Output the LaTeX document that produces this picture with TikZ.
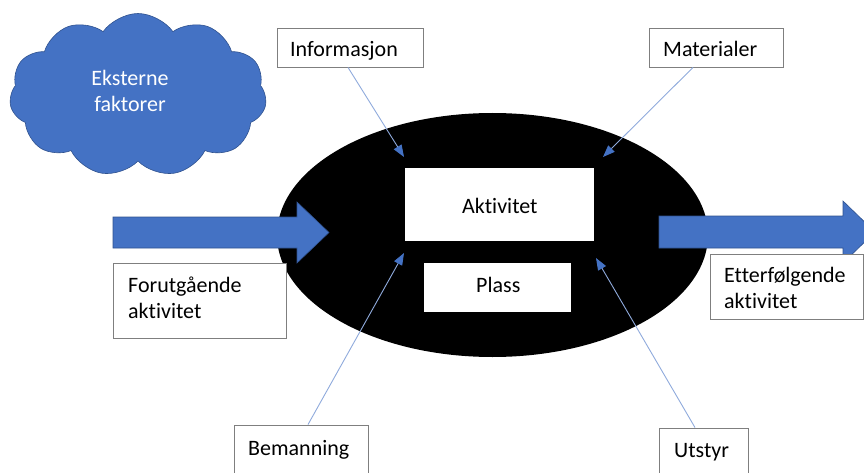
\documentclass[tikz,border=0pt]{standalone}
\usepackage{fontspec}
\setmainfont{Carlito}[Ligatures=NoCommon]
\usetikzlibrary{shapes.symbols,arrows.meta}
\definecolor{cblue}{HTML}{4472C4}
\definecolor{cedge}{HTML}{2F528F}
\definecolor{lblue}{HTML}{8FAADC}
\definecolor{bgray}{HTML}{7F7F7F}
\begin{document}
\begin{tikzpicture}[x=1pt,y=-1pt,
  box/.style={draw=bgray, line width=0.9pt, fill=white, inner sep=0pt},
  inbox/.style={fill=white, inner sep=0pt},
  txt/.style={font=\fontsize{22}{26}\selectfont, inner sep=0pt, anchor=base west, align=left},
  feed/.style={draw=lblue, line width=0.9pt, -{Triangle[length=12pt,width=9pt,color=cblue]}},
  bigarrow/.style={fill=cblue, draw=cedge, line width=0.6pt}]
\useasboundingbox (0,0) rectangle (864,473);
\clip (0,0) rectangle (864,473);
% cloud
\node[cloud, cloud puffs=11, cloud puff arc=110, cloud ignores aspect, minimum width=257pt, minimum height=163pt, fill=cblue, draw=cedge, line width=0.6pt] (cloud) at (138,95) {};
\node[txt, anchor=base, text=white] (eks) at (130,86) {Eksterne};
\node[txt, anchor=base, text=white] (fak) at (130,112) {faktorer};
% ellipse
\fill[black] (492.5,235) ellipse [x radius=215.5, y radius=122];
% inner boxes
\node[inbox, minimum width=189pt, minimum height=73pt] (akt) at (499.5,204.5) {};
\node[inbox, minimum width=147pt, minimum height=49pt] (plass) at (497.5,287.5) {};
\node[txt] at (462,213) {Aktivitet};
\node[txt] at (476,292) {Plass};
% big arrows
\draw[bigarrow] (113,217) -- (297,217) -- (297,202) -- (329,232.5) -- (297,263) -- (297,248) -- (113,248) -- cycle;
\draw[bigarrow] (659,216) -- (843,216) -- (843,201) -- (875,232) -- (843,263) -- (843,248) -- (659,248) -- cycle;
% outer boxes
\node[box, minimum width=146pt, minimum height=39pt] (info) at (350,47.5) {};
\node[box, minimum width=134pt, minimum height=39pt] (mat) at (716,47.5) {};
\node[box, minimum width=173pt, minimum height=75pt] (forut) at (199.5,300.5) {};
\node[box, minimum width=153pt, minimum height=65pt] (etter) at (786.5,286.5) {};
\node[box, minimum width=134pt, minimum height=65pt] (beman) at (301,457.5) {};
\node[box, minimum width=89pt, minimum height=62pt] (utstyr) at (703.5,459) {};
\node[txt] (tinfo) at (290,57) {Informasjon};
\node[txt] (tmat) at (663,57) {Materialer};
\node[txt] (tforut) at (128,318) {Forutgående\\aktivitet};
\node[txt] (tetter) at (724,308.5) {Etterfølgende\\aktivitet};
\node[txt] (tbeman) at (248,455) {Bemanning};
\node[txt] (tutstyr) at (674,457) {Utstyr};
% thin arrows
\coordinate (infoT) at (404,157);
\coordinate (matT) at (603,157);
\coordinate (bemT) at (404,253);
\coordinate (utsT) at (596,258);
\draw[feed] ([xshift=-2pt]info.south) -- (infoT);
\draw[feed] ([xshift=-23pt]mat.south) -- (matT);
\draw[feed] ([xshift=7pt]beman.north) -- (bemT);
\draw[feed] ([xshift=-8.5pt]utstyr.north) -- (utsT);
\end{tikzpicture}
\end{document}
